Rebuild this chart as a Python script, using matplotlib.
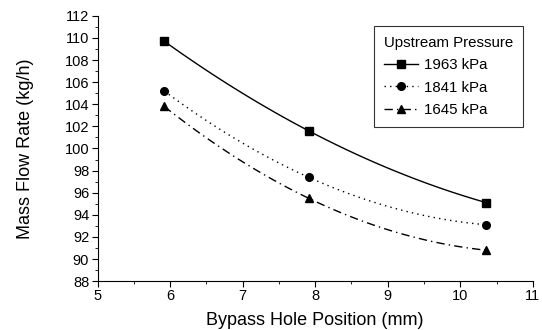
import numpy as np
import matplotlib
matplotlib.use("Agg")
import matplotlib.pyplot as plt
from matplotlib.ticker import MultipleLocator

plt.rcParams['font.family'] = ['Liberation Sans', 'DejaVu Sans']

positions = [5.92, 7.91, 10.36]
flow_1963 = [109.7, 101.6, 95.1]
flow_1841 = [105.2, 97.4, 93.1]
flow_1645 = [103.8, 95.5, 90.8]
labels = ['1963 kPa', '1841 kPa', '1645 kPa']
markers = ['s', 'o', '^']
styles = ['-', (0, (1, 3)), (0, (6, 3, 1, 3))]

fig = plt.figure(figsize=(5.42, 3.3), dpi=100)
ax = fig.add_axes([0.18, 0.148, 0.803, 0.804])

xs = np.linspace(positions[0], positions[-1], 100)
for ys, lab, mk, ls in zip([flow_1963, flow_1841, flow_1645], labels, markers, styles):
    c = np.polyfit(positions, ys, 2)
    ax.plot(xs, np.polyval(c, xs), color='black', lw=1.0, ls=ls)
    ax.plot(positions, ys, ls='none', marker=mk, color='black', ms=5.5)
    ax.plot([], [], color='black', lw=1.0, ls=ls, marker=mk, ms=5.5, label=lab)

ax.set_xlim(5, 11)
ax.set_ylim(88, 112)
ax.xaxis.set_major_locator(MultipleLocator(1))
ax.xaxis.set_minor_locator(MultipleLocator(0.5))
ax.yaxis.set_major_locator(MultipleLocator(2))
ax.yaxis.set_minor_locator(MultipleLocator(1))
ax.tick_params(which='major', direction='out', length=4, labelsize=10.5, pad=2)
ax.tick_params(which='minor', direction='out', length=2)
for s in ['top', 'right']:
    ax.spines[s].set_visible(False)
ax.set_xlabel('Bypass Hole Position (mm)', fontsize=13, labelpad=6)
ax.set_ylabel('Mass Flow Rate (kg/h)', fontsize=13, labelpad=22)

leg = ax.legend(title='Upstream Pressure', loc='upper right', bbox_to_anchor=(0.977, 0.96),
                fontsize=10.8, title_fontsize=10.8, frameon=True, fancybox=False,
                edgecolor='black', handlelength=2.3, handletextpad=0.4,
                borderpad=0.65, labelspacing=0.55, borderaxespad=0)
leg._legend_box.align = 'left'
leg.get_frame().set_linewidth(0.8)

fig.savefig('out.png', dpi=100)
